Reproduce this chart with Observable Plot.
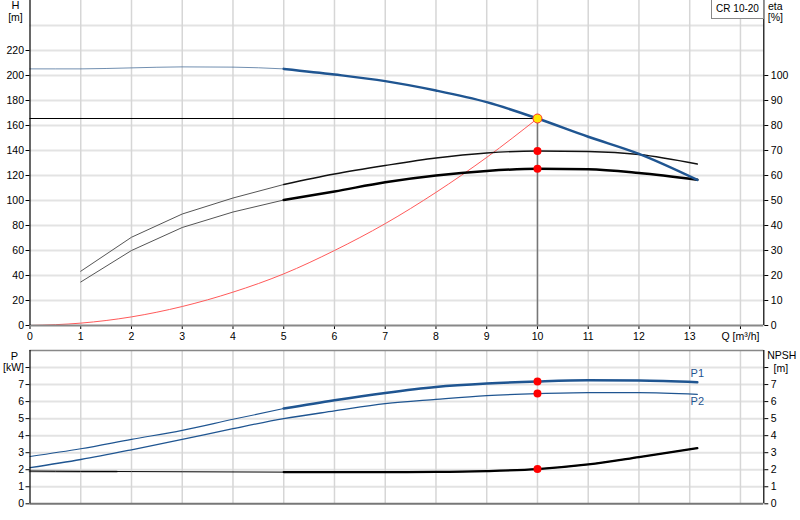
<!DOCTYPE html>
<html><head><meta charset="utf-8">
<script src="https://cdn.jsdelivr.net/npm/d3@7"></script>
<script src="https://cdn.jsdelivr.net/npm/@observablehq/plot@0.6"></script>
<style>
body{margin:0;background:#fff;font-family:"Liberation Sans",Arial,sans-serif;}
#wrap{position:relative;width:800px;height:520px;overflow:hidden;}
#wrap svg{display:block}
#legend{position:absolute;left:711px;top:0;width:51px;height:18px;border:1px solid #888;border-top:none;font-size:10px;line-height:17px;text-align:center;background:#fff;color:#000}
</style></head><body><div id="wrap"><div id="chart"></div><div id="legend">CR 10-20</div></div>
<script>
// Flow rate Q [m³/h]
const q = [0,1,2,3,4,5,6,7,8,9,10,11,12,13.15];
// Head H [m]
const head = [205.3,205.3,206.1,206.9,206.7,205.3,200.8,195.5,188,178.7,165.6,151,137.3,116.5];
// Efficiency curves eta [%]
const qEta = [1,2,3,4,5,6,7,8,9,10,11,12,13.15];
const etaUpper = [21.7,35.3,44.6,51,56.4,60.6,64,67,69,69.8,69.6,68.4,64.6];
const etaLower = [17.4,30,39.2,45.4,50.2,53.6,57.3,60,61.8,62.7,62.5,61,58.3];
// System curve
const qSys = [0,1,2,3,4,5,6,7,8,9,10];
const hSys = [0,1.9,6.9,15.2,26.7,41.3,60,81.5,106.5,134.5,165.6];
// Power P1, P2 [kW] and NPSH [m]
const p1 = [2.78,3.23,3.78,4.31,4.96,5.59,6.08,6.51,6.86,7.06,7.18,7.25,7.24,7.14];
const p2 = [2.12,2.6,3.17,3.78,4.41,5.0,5.45,5.88,6.13,6.35,6.47,6.53,6.53,6.43];
const npsh = [1.92,1.9,1.89,1.88,1.87,1.86,1.86,1.86,1.87,1.92,2.04,2.31,2.74,3.27];
// Duty point
const dutyQ = 10;
const dutyH = 165.6;
const dutyEtaUpper = 69.8, dutyEtaLower = 62.7;
const dutyP1 = 7.18, dutyP2 = 6.47, dutyNpsh = 2.04;

const rows = q.map((x,i)=>({q:x,h:head[i],p1:p1[i],p2:p2[i],npsh:npsh[i]}));
const etaRows = qEta.map((x,i)=>({q:x,up:etaUpper[i],lo:etaLower[i]}));
const sysRows = qSys.map((x,i)=>({q:x,h:hSys[i]}));
const thick = d => d.q >= 5;
const thin = d => d.q <= 5;
const blue = "#1f5591";
const xMax = 14.46;
const font = {fontFamily:"'Liberation Sans',Arial,sans-serif",fontSize:"10.5px",color:"#000",background:"#fff",overflow:"visible"};
const grid = {stroke:"#d6d6d6",strokeOpacity:1,strokeWidth:1.5};
const gridH = {stroke:"#e3e3e3",strokeOpacity:1,strokeWidth:2};
const curve = "monotone-x";

const topPlot = Plot.plot({
  width:800,height:345,marginLeft:29.5,marginRight:36.7,marginTop:0,marginBottom:20,
  style:font,
  x:{domain:[0,xMax]},
  y:{domain:[0,260]},
  marks:[
    Plot.gridY(d3.range(20,260,20),gridH),
    Plot.gridX(d3.range(1,15),grid),
    Plot.ruleX([dutyQ],{y1:0,y2:dutyH,stroke:"#777",strokeWidth:1.5}),
    Plot.ruleY([dutyH],{x1:0,x2:dutyQ,stroke:"#000",strokeWidth:1.2}),
    Plot.line(sysRows,{x:"q",y:"h",stroke:"#ff5a5a",strokeWidth:1,curve}),
    Plot.line(etaRows,{filter:thin,x:"q",y:d=>d.up*2,stroke:"#555",strokeWidth:1}),
    Plot.line(etaRows,{filter:thick,x:"q",y:d=>d.up*2,stroke:"#111",strokeWidth:1.4,curve}),
    Plot.line(etaRows,{filter:thin,x:"q",y:d=>d.lo*2,stroke:"#555",strokeWidth:1}),
    Plot.line(etaRows,{filter:thick,x:"q",y:d=>d.lo*2,stroke:"#000",strokeWidth:2.5,curve}),
    Plot.line(rows,{filter:thin,x:"q",y:"h",stroke:"#35608f",strokeWidth:1,strokeOpacity:0.7,curve}),
    Plot.line(rows,{filter:thick,x:"q",y:"h",stroke:blue,strokeWidth:2.5,curve}),
    Plot.dot([dutyEtaUpper,dutyEtaLower],{x:()=>dutyQ,y:d=>d*2,r:4,fill:"#ff0000"}),
    Plot.dot([dutyH],{x:()=>dutyQ,y:d=>d,r:4.5,fill:"#ffe600",stroke:"#ff3030",strokeWidth:1}),
    Plot.axisY({ticks:d3.range(0,240,20),anchor:"left",tickSize:4,tickPadding:2,label:null}),
    Plot.axisY({ticks:d3.range(0,220,20),anchor:"right",tickSize:4,tickPadding:3,tickFormat:d=>d/2,label:null}),
    Plot.axisX({ticks:d3.range(0,15),tickSize:4,tickPadding:3,tickFormat:d=>d===14?"Q [m³/h]":d,label:null}),
    Plot.ruleY([0],{stroke:"#888",strokeWidth:2}),
    Plot.ruleX([0],{stroke:"#000",strokeWidth:1.2}),
    Plot.ruleX([xMax],{stroke:"#000",strokeWidth:1.2}),
    Plot.text(["H"],{frameAnchor:"top-left",dx:-14.5,dy:4.5,textAnchor:"middle",lineAnchor:"middle",fontSize:11}),
    Plot.text(["[m]"],{frameAnchor:"top-left",dx:-14.5,dy:17,textAnchor:"middle",lineAnchor:"middle"}),
    Plot.text(["eta"],{frameAnchor:"top-right",dx:11.5,dy:6,textAnchor:"middle",lineAnchor:"middle"}),
    Plot.text(["[%]"],{frameAnchor:"top-right",dx:11.5,dy:17,textAnchor:"middle",lineAnchor:"middle"})
  ]
});

const last = rows[rows.length-1];
const botPlot = Plot.plot({
  width:800,height:175,marginLeft:29.5,marginRight:36.7,marginTop:5,marginBottom:16.7,
  style:font,
  x:{domain:[0,xMax],axis:null},
  y:{domain:[0,9]},
  marks:[
    Plot.gridY(d3.range(1,9),gridH),
    Plot.gridX(d3.range(1,15),grid),
    Plot.line(rows.filter(d=>d.q<=1.7).concat([{q:1.7,npsh:1.9}]),{x:"q",y:"npsh",stroke:"#bbb",strokeWidth:3}),
    Plot.line(rows,{x:"q",y:"npsh",stroke:"#000",strokeWidth:1,curve}),
    Plot.line(rows,{filter:thick,x:"q",y:"npsh",stroke:"#000",strokeWidth:2.3,curve}),
    Plot.line(rows,{x:"q",y:"p2",stroke:blue,strokeWidth:1.3,curve}),
    Plot.line(rows,{filter:thin,x:"q",y:"p1",stroke:blue,strokeWidth:1.1,curve}),
    Plot.line(rows,{filter:thick,x:"q",y:"p1",stroke:blue,strokeWidth:2.5,curve}),
    Plot.dot([dutyP1,dutyP2,dutyNpsh],{x:()=>dutyQ,y:d=>d,r:4,fill:"#ff0000"}),
    Plot.text([last],{x:"q",y:"p1",text:()=>"P1",dy:-9,textAnchor:"middle",lineAnchor:"middle",fill:blue,fontSize:11}),
    Plot.text([last],{x:"q",y:"p2",text:()=>"P2",dy:7,textAnchor:"middle",lineAnchor:"middle",fill:blue,fontSize:11}),
    Plot.axisY({ticks:d3.range(0,9),anchor:"left",tickSize:4,tickPadding:2,tickFormat:d=>d===8?"[kW]":d,label:null}),
    Plot.axisY({ticks:d3.range(0,9),anchor:"right",tickSize:4,tickPadding:3,tickFormat:d=>d===8?"":d,label:null}),
    Plot.ruleY([0],{stroke:"#777",strokeWidth:2}),
    Plot.ruleY([9],{stroke:"#888",strokeWidth:1.5}),
    Plot.ruleX([0],{stroke:"#000",strokeWidth:1.2}),
    Plot.ruleX([xMax],{stroke:"#000",strokeWidth:1.2}),
    Plot.text(["P"],{frameAnchor:"top-left",dx:-15.5,dy:5.5,textAnchor:"middle",lineAnchor:"middle",fontSize:11}),
    Plot.text(["NPSH"],{frameAnchor:"top-right",dx:18,dy:5.5,textAnchor:"middle",lineAnchor:"middle"}),
    Plot.text(["[m]"],{frameAnchor:"top-right",dx:17,dy:18,textAnchor:"middle",lineAnchor:"middle"})
  ]
});

document.getElementById("chart").append(topPlot, botPlot);
</script>
</body></html>
